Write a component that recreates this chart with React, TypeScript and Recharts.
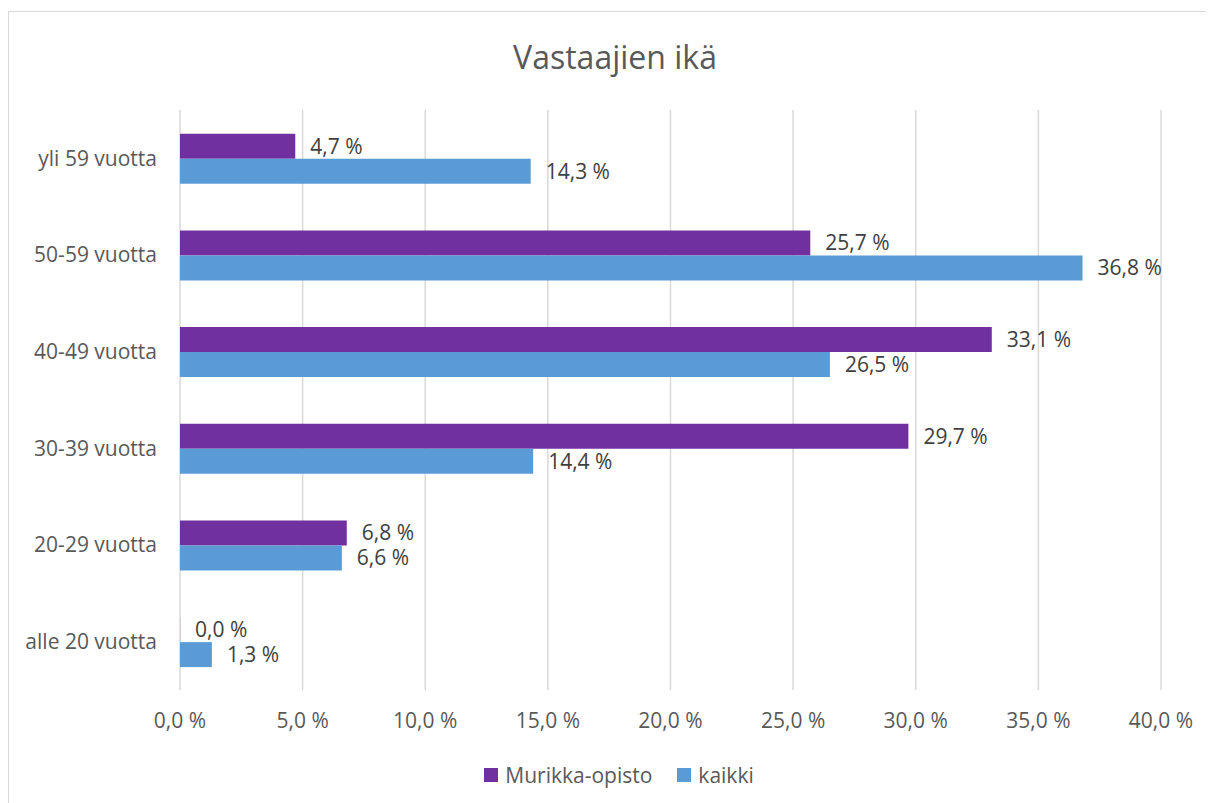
import { Bar, BarChart, CartesianGrid, LabelList, XAxis, YAxis } from "recharts";

const categories = ["yli 59 vuotta", "50-59 vuotta", "40-49 vuotta", "30-39 vuotta", "20-29 vuotta", "alle 20 vuotta"];
const murikka = [4.7, 25.7, 33.1, 29.7, 6.8, 0.0];
const kaikki = [14.3, 36.8, 26.5, 14.4, 6.6, 1.3];
const xTicks = [0, 5, 10, 15, 20, 25, 30, 35, 40];

const data = categories.map((name, i) => ({ name, murikka: murikka[i], kaikki: kaikki[i] }));

const FONT = "'Open Sans', sans-serif";
const PURPLE = "#7030A0";
const BLUE = "#5B9BD5";

const pct = (v: number) => v.toFixed(1).replace(".", ",") + " %";

export default function App() {
  return (
    <div style={{ position: "relative", width: 1206, height: 795, overflow: "hidden", fontFamily: FONT }}>
      <div
        style={{
          position: "absolute",
          left: 0,
          top: 3,
          width: 1300,
          height: 900,
          border: "1px solid #d9d9d9",
        }}
      />
      <div
        style={{
          position: "absolute",
          left: 0,
          top: 27,
          width: 1214,
          textAlign: "center",
          fontSize: 32,
          color: "#595959",
        }}
      >
        Vastaajien ikä
      </div>
      <div style={{ position: "absolute", top: 0, left: 0 }}>
        <BarChart
          width={1206}
          height={795}
          data={data}
          layout="vertical"
          margin={{ top: 102, right: 53, bottom: 83, left: 0 }}
          barCategoryGap="24.6%"
          barGap={0}
        >
          <CartesianGrid horizontal={false} stroke="#d9d9d9" strokeWidth={1.5} />
          <XAxis
            type="number"
            domain={[0, 40]}
            ticks={xTicks}
            tickFormatter={pct}
            axisLine={false}
            tickLine={false}
            tickSize={0}
            tickMargin={23}
            tick={{ fill: "#595959", fontSize: 21, fontFamily: FONT }}
          />
          <YAxis
            type="category"
            dataKey="name"
            width={172}
            axisLine={false}
            tickLine={false}
            tickSize={0}
            tickMargin={23}
            tick={{ fill: "#595959", fontSize: 21, fontFamily: FONT }}
          />
          <Bar dataKey="murikka" fill={PURPLE} minPointSize={0.1} isAnimationActive={false}>
            <LabelList
              dataKey="murikka"
              position="right"
              offset={15}
              formatter={(v: any) => pct(Number(v))}
              style={{ fill: "#404040", fontSize: 21, fontFamily: FONT }}
            />
          </Bar>
          <Bar dataKey="kaikki" fill={BLUE} isAnimationActive={false}>
            <LabelList
              dataKey="kaikki"
              position="right"
              offset={15}
              formatter={(v: any) => pct(Number(v))}
              style={{ fill: "#404040", fontSize: 21, fontFamily: FONT }}
            />
          </Bar>
        </BarChart>
      </div>
      <div
        style={{
          position: "absolute",
          top: 753,
          left: 0,
          width: 1222,
          display: "flex",
          justifyContent: "center",
          alignItems: "center",
          fontSize: 21,
          color: "#595959",
          gap: 25,
        }}
      >
        <div style={{ display: "flex", alignItems: "center", gap: 7 }}>
          <span style={{ width: 14, height: 14, background: PURPLE, display: "inline-block" }} />
          Murikka-opisto
        </div>
        <div style={{ display: "flex", alignItems: "center", gap: 7 }}>
          <span style={{ width: 14, height: 14, background: BLUE, display: "inline-block" }} />
          kaikki
        </div>
      </div>
    </div>
  );
}
